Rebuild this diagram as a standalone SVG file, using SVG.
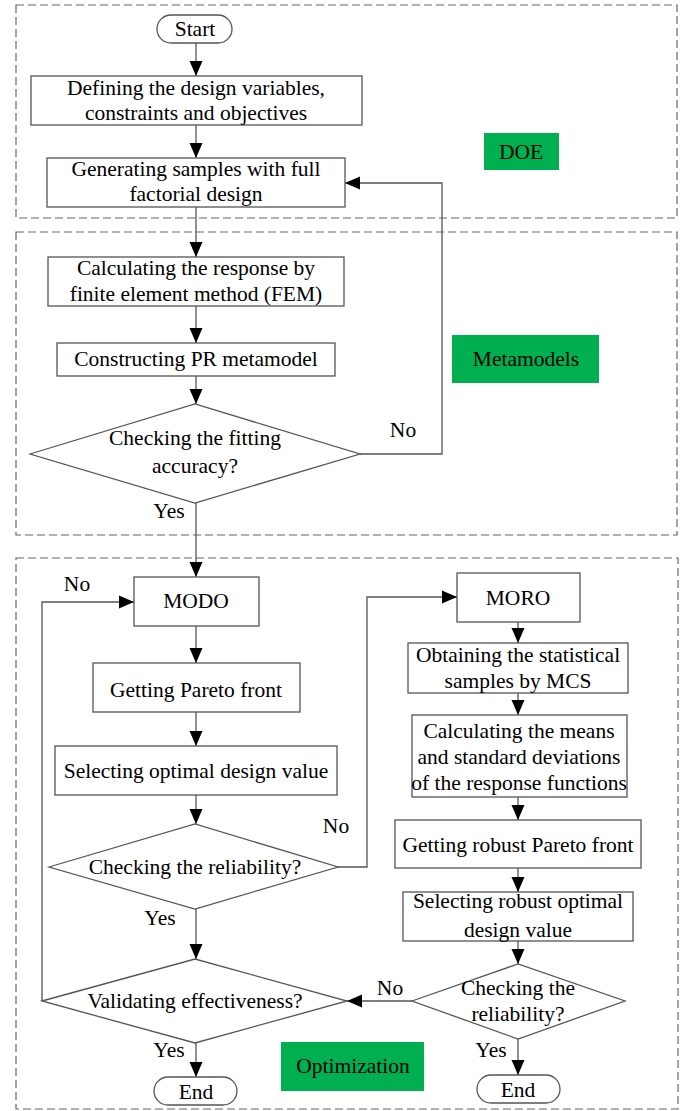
<svg xmlns="http://www.w3.org/2000/svg" width="686" height="1111" viewBox="0 0 686 1111">
<style>
text{font-family:"Liberation Serif","Times New Roman",serif;font-size:21.5px;fill:#000;text-anchor:middle}
.n{fill:#fff;stroke:#555;stroke-width:1.3}
.g{fill:#00b050;stroke:none}
.d{fill:none;stroke:#666;stroke-width:1.2;stroke-dasharray:8,4}
.c{fill:none;stroke:#555;stroke-width:1.3}
</style>
<defs>
<marker id="a" markerUnits="userSpaceOnUse" markerWidth="15" markerHeight="14" refX="15" refY="7" orient="auto">
<path d="M0,0.5L15,7L0,13.5z" fill="#000"/>
</marker>
</defs>
<g id="regions">
<rect class="d" x="16" y="5" width="661" height="213"/>
<rect class="d" x="16" y="232" width="661" height="303"/>
<rect class="d" x="16" y="558" width="662" height="551"/>
<rect class="g" x="484" y="133" width="75" height="37"/>
<text x="521" y="159">DOE</text>
<rect class="g" x="452" y="335" width="147" height="48"/>
<text x="526" y="366">Metamodels</text>
<rect class="g" x="281" y="1042" width="143" height="49"/>
<text x="353" y="1073">Optimization</text>
</g>
<g id="connectors">
<path class="c" marker-end="url(#a)" d="M196,43V76"/>
<path class="c" marker-end="url(#a)" d="M196,125V158"/>
<path class="c" marker-end="url(#a)" d="M196,207V257"/>
<path class="c" marker-end="url(#a)" d="M196,306V343"/>
<path class="c" marker-end="url(#a)" d="M196,376V404"/>
<path class="c" marker-end="url(#a)" d="M360,454H442V183H345"/>
<path class="c" marker-end="url(#a)" d="M196,503V577"/>
<path class="c" marker-end="url(#a)" d="M196,626V663"/>
<path class="c" marker-end="url(#a)" d="M196,712V746"/>
<path class="c" marker-end="url(#a)" d="M196,795V824"/>
<path class="c" marker-end="url(#a)" d="M338,867H367V597H457"/>
<path class="c" marker-end="url(#a)" d="M196,909V959"/>
<path class="c" marker-end="url(#a)" d="M42,1001V602H134"/>
<path class="c" marker-end="url(#a)" d="M196,1043V1077"/>
<path class="c" marker-end="url(#a)" d="M518,622V643"/>
<path class="c" marker-end="url(#a)" d="M518,693V715"/>
<path class="c" marker-end="url(#a)" d="M518,797V820"/>
<path class="c" marker-end="url(#a)" d="M518,868V892"/>
<path class="c" marker-end="url(#a)" d="M518,941V964"/>
<path class="c" marker-end="url(#a)" d="M412,1001H347"/>
<path class="c" marker-end="url(#a)" d="M518,1039V1075"/>
<text x="403" y="437">No</text>
<text x="169" y="518">Yes</text>
<text x="77" y="591">No</text>
<text x="336" y="833">No</text>
<text x="160" y="925">Yes</text>
<text x="390" y="995">No</text>
<text x="169" y="1057">Yes</text>
<text x="491" y="1057">Yes</text>
</g>
<g id="start">
<rect class="n" x="157" y="15" width="75" height="28" rx="14"/>
<text x="195" y="36">Start</text>
</g>
<g id="define">
<rect class="n" x="31" y="76" width="331" height="49"/>
<text x="196" y="95">Defining the design variables,</text>
<text x="196" y="120">constraints and objectives</text>
</g>
<g id="samples">
<rect class="n" x="47" y="158" width="298" height="49"/>
<text x="196" y="176">Generating samples with full</text>
<text x="196" y="201">factorial design</text>
</g>
<g id="fem">
<rect class="n" x="48" y="257" width="296" height="49"/>
<text x="196" y="275">Calculating the response by</text>
<text x="196" y="301">finite element method (FEM)</text>
</g>
<g id="pr">
<rect class="n" x="57" y="343" width="278" height="33"/>
<text x="196" y="366">Constructing PR metamodel</text>
</g>
<g id="fit">
<path class="n" d="M30,454L195,404L360,454L195,503z"/>
<text x="195" y="445">Checking the fitting</text>
<text x="195" y="473">accuracy?</text>
</g>
<g id="modo">
<rect class="n" x="134" y="577" width="125" height="49"/>
<text x="196" y="608">MODO</text>
</g>
<g id="pareto">
<rect class="n" x="93" y="663" width="207" height="49"/>
<text x="196" y="697">Getting Pareto front</text>
</g>
<g id="select">
<rect class="n" x="55" y="746" width="282" height="49"/>
<text x="196" y="778">Selecting optimal design value</text>
</g>
<g id="rel1">
<path class="n" d="M49,867L195,824L338,867L195,909z"/>
<text x="195" y="874">Checking the reliability?</text>
</g>
<g id="valid">
<path class="n" d="M42,1001L195,959L347,1001L195,1043z"/>
<text x="195" y="1008">Validating effectiveness?</text>
</g>
<g id="end1">
<rect class="n" x="154" y="1077" width="83" height="28" rx="14"/>
<text x="196" y="1099">End</text>
</g>
<g id="moro">
<rect class="n" x="457" y="573" width="123" height="49"/>
<text x="518" y="605">MORO</text>
</g>
<g id="mcs">
<rect class="n" x="408" y="643" width="220" height="50"/>
<text x="518" y="662">Obtaining the statistical</text>
<text x="518" y="688">samples by MCS</text>
</g>
<g id="means">
<rect class="n" x="412" y="715" width="215" height="82"/>
<text x="519" y="738">Calculating the means</text>
<text x="519" y="764">and standard deviations</text>
<text x="519" y="790">of the response functions</text>
</g>
<g id="rpareto">
<rect class="n" x="395" y="820" width="246" height="48"/>
<text x="518" y="852">Getting robust Pareto front</text>
</g>
<g id="rselect">
<rect class="n" x="403" y="892" width="230" height="49"/>
<text x="518" y="908">Selecting robust optimal</text>
<text x="518" y="937">design value</text>
</g>
<g id="rel2">
<path class="n" d="M412,1001L518,964L625,1001L518,1039z"/>
<text x="518" y="995">Checking the</text>
<text x="518" y="1021">reliability?</text>
</g>
<g id="end2">
<rect class="n" x="477" y="1075" width="83" height="28" rx="14"/>
<text x="518" y="1097">End</text>
</g>
</svg>
